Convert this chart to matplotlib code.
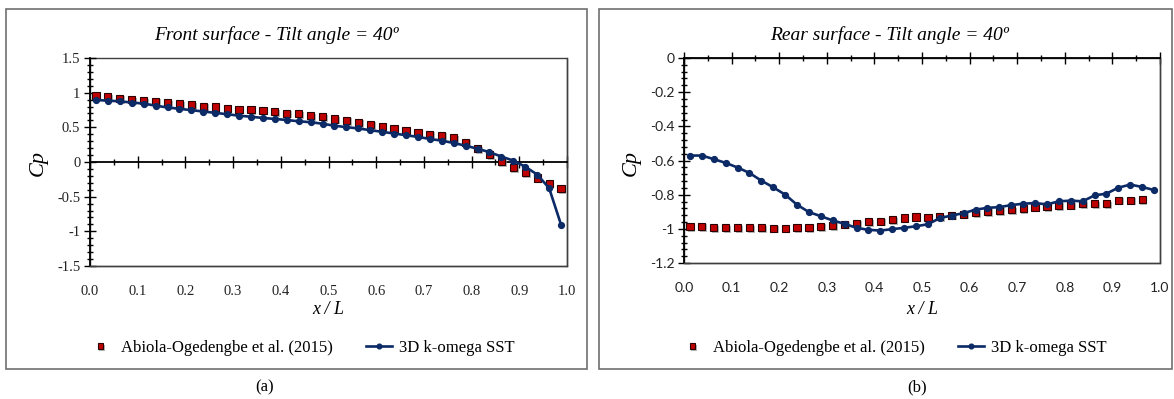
import matplotlib
matplotlib.use('Agg')
import matplotlib.pyplot as plt
from matplotlib.patches import Rectangle
from matplotlib.ticker import MultipleLocator, FuncFormatter
import matplotlib.patheffects as pe

matplotlib.rcParams['axes.unicode_minus'] = False

# x / L positions of the pressure taps
x_taps = [0.0125, 0.0375, 0.0625, 0.0875, 0.1125, 0.1375, 0.1625, 0.1875, 0.2125, 0.2375,
          0.2625, 0.2875, 0.3125, 0.3375, 0.3625, 0.3875, 0.4125, 0.4375, 0.4625, 0.4875,
          0.5125, 0.5375, 0.5625, 0.5875, 0.6125, 0.6375, 0.6625, 0.6875, 0.7125, 0.7375,
          0.7625, 0.7875, 0.8125, 0.8375, 0.8625, 0.8875, 0.9125, 0.9375, 0.9625, 0.9875]

# front surface
front_exp = [0.957, 0.943, 0.919, 0.899, 0.885, 0.875, 0.855, 0.836, 0.826, 0.806,
             0.792, 0.772, 0.762, 0.758, 0.748, 0.723, 0.704, 0.694, 0.670, 0.655,
             0.621, 0.601, 0.572, 0.543, 0.513, 0.479, 0.459, 0.430, 0.401, 0.386,
             0.352, 0.283, 0.195, 0.108, 0.005, -0.083, -0.156, -0.230, -0.308, -0.381]
front_sst = [0.894, 0.885, 0.875, 0.858, 0.843, 0.812, 0.787, 0.767, 0.748, 0.728,
             0.709, 0.689, 0.668, 0.653, 0.635, 0.621, 0.606, 0.587, 0.574, 0.552,
             0.523, 0.503, 0.484, 0.459, 0.435, 0.411, 0.386, 0.362, 0.332, 0.308,
             0.274, 0.235, 0.191, 0.142, 0.078, 0.020, -0.068, -0.181, -0.376, -0.904]

# rear surface (experiment has no last tap)
rear_exp = [-0.986, -0.986, -0.992, -0.992, -0.992, -0.992, -0.992, -0.996, -0.996, -0.992,
            -0.992, -0.986, -0.979, -0.973, -0.967, -0.959, -0.955, -0.947, -0.937, -0.931,
            -0.932, -0.928, -0.920, -0.914, -0.906, -0.898, -0.892, -0.888, -0.881, -0.873,
            -0.871, -0.863, -0.861, -0.853, -0.853, -0.853, -0.832, -0.832, -0.828]
rear_sst = [-0.571, -0.571, -0.592, -0.614, -0.641, -0.673, -0.718, -0.757, -0.800, -0.859,
            -0.902, -0.926, -0.951, -0.971, -0.994, -1.006, -1.010, -1.002, -0.994, -0.985,
            -0.973, -0.937, -0.922, -0.908, -0.888, -0.877, -0.873, -0.861, -0.853, -0.849,
            -0.857, -0.839, -0.835, -0.839, -0.804, -0.794, -0.759, -0.741, -0.755, -0.773]

label_exp = 'Abiola-Ogedengbe et al. (2015)'
label_sst = '3D k-omega SST'

W, H = 1174, 399
SERIF = 'Liberation Serif'
SANS = 'Lato'
RED = '#c00000'
BLUE = '#0b2a66'


def fx(px):
    return px / W


def fy(py):
    return 1 - py / H


def draw_series(ax, xe, ye, xs, ys):
    shadow = [pe.SimplePatchShadow(offset=(1.2, -1.2), shadow_rgbFace='0.55', alpha=0.6), pe.Normal()]
    ax.plot(xe, ye, ls='none', marker='s', ms=5.2, mfc=RED, mec='#2a0000', mew=0.8,
            label=label_exp, path_effects=shadow, zorder=3)
    ax.plot(xs, ys, color=BLUE, lw=1.9, marker='o', ms=4.2, mfc=BLUE, mec=BLUE,
            label=label_sst, zorder=4)


def style_axes(ax, ymin, ymax, ymajor, yminor, ticks_font, zero_top):
    ax.set_xlim(0, 1.0)
    ax.set_ylim(ymin, ymax)
    ax.xaxis.set_major_locator(MultipleLocator(0.1))
    ax.xaxis.set_minor_locator(MultipleLocator(0.05))
    ax.yaxis.set_major_locator(MultipleLocator(ymajor))
    ax.yaxis.set_minor_locator(MultipleLocator(yminor))
    ax.xaxis.set_major_formatter(FuncFormatter(lambda v, p: '%.1f' % v))
    ax.yaxis.set_major_formatter(FuncFormatter(lambda v, p: '%g' % round(v, 2)))

    for s in ax.spines.values():
        s.set_color('#3f3f3f')
        s.set_linewidth(1.0)
    ax.spines['left'].set_color('black')
    ax.spines['left'].set_linewidth(1.3)
    # x axis crosses at Cp = 0, labels stay at the bottom
    ax.spines['top'].set_position(('data', 0))
    ax.spines['top'].set_color('black')
    ax.spines['top'].set_linewidth(1.3)
    ax.add_patch(Rectangle((0, 0), 1, 1, transform=ax.transAxes, fill=False,
                           ec='#3f3f3f', lw=1.0, zorder=0.5, clip_on=False))

    ax.tick_params(axis='x', which='both', top=True, bottom=False, labeltop=False,
                   labelbottom=True, direction='inout', color='black', width=1.0)
    ax.tick_params(axis='x', which='major', length=8, pad=10)
    ax.tick_params(axis='x', which='minor', length=5)
    ax.tick_params(axis='y', which='both', direction='inout', color='black', width=1.0)
    ax.tick_params(axis='y', which='major', length=8, pad=3)
    ax.tick_params(axis='y', which='minor', length=5)
    for lab in ax.get_xticklabels() + ax.get_yticklabels():
        lab.set_fontfamily(ticks_font)
        lab.set_fontsize(10.5 if ticks_font == SERIF else 10)
        lab.set_color('#222222')


def main():
    fig = plt.figure(figsize=(W / 100, H / 100), dpi=100)

    # outer frames of both charts
    for x0, x1 in [(6, 587), (599, 1172)]:
        fig.patches.append(Rectangle((fx(x0), fy(369)), fx(x1 - x0), (369 - 9) / H,
                                     transform=fig.transFigure, fill=False,
                                     ec='#6f6f6f', lw=1.2))

    ax1 = fig.add_axes([fx(90), fy(266), fx(567 - 90), (266 - 58) / H])
    draw_series(ax1, x_taps, front_exp, x_taps, front_sst)
    style_axes(ax1, -1.5, 1.5, 0.5, 0.1, SERIF, True)

    ax2 = fig.add_axes([fx(684), fy(263), fx(1160 - 684), (263 - 58) / H])
    draw_series(ax2, x_taps[:len(rear_exp)], rear_exp, x_taps, rear_sst)
    style_axes(ax2, -1.2, 0.0, 0.2, 0.04, SANS, True)

    title_kw = dict(family=SERIF, style='italic', fontsize=14, ha='center', va='center')
    fig.text(fx(276), fy(35), 'Front surface - Tilt angle = 40º', **title_kw)
    fig.text(fx(889), fy(35), 'Rear surface - Tilt angle = 40º', **title_kw)

    for xc in [38, 631]:
        fig.text(fx(xc), fy(163), 'Cp', family=SERIF, style='italic', fontsize=16,
                 rotation=90, ha='center', va='center')
    for xc in [328, 922]:
        fig.text(fx(xc), fy(309), 'x / L', family=SERIF, style='italic', fontsize=13,
                 ha='center', va='center')

    for ax, xc in [(ax1, 301), (ax2, 893)]:
        h, l = ax.get_legend_handles_labels()
        fig.legend(h, l, loc='center', bbox_to_anchor=(fx(xc), fy(348)), ncol=2,
                   frameon=False, prop={'family': SERIF, 'size': 12},
                   handlelength=1.6, handletextpad=0.4, columnspacing=2.0,
                   markerscale=0.8)

    fig.text(fx(265), fy(387), '(a)', family=SERIF, fontsize=12, ha='center', va='center')
    fig.text(fx(917), fy(387), '(b)', family=SERIF, fontsize=12, ha='center', va='center')

    plt.savefig('out.png', dpi=100)


if __name__ == '__main__':
    main()
